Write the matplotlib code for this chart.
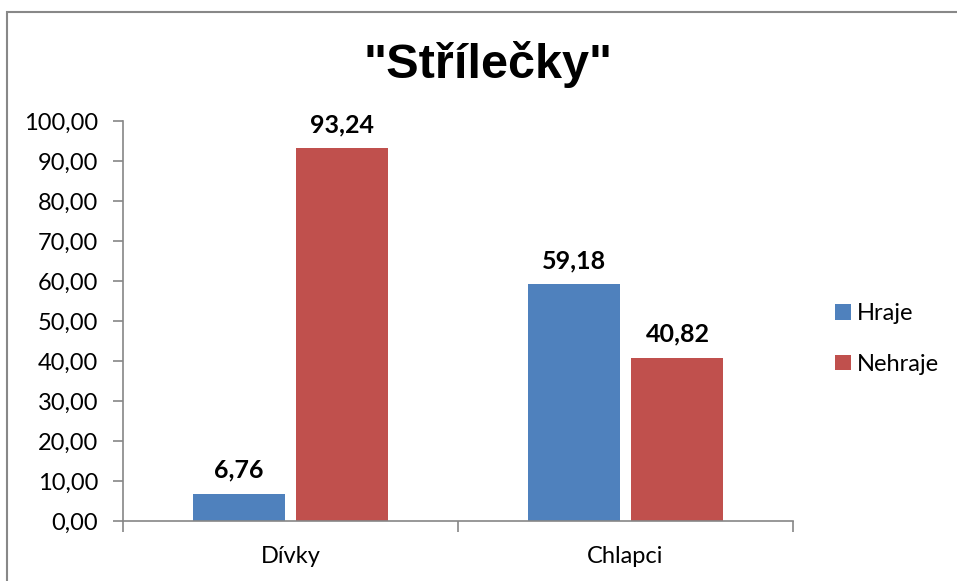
import matplotlib.pyplot as plt
from matplotlib.patches import Rectangle

categories = ["Dívky", "Chlapci"]
hraje = [6.76, 59.18]
nehraje = [93.24, 40.82]
series_names = ["Hraje", "Nehraje"]
yticks = [0, 10, 20, 30, 40, 50, 60, 70, 80, 90, 100]

blue = "#4F81BD"
red = "#C0504D"
axis_gray = "#868686"
lab_font = "Lato"

fig = plt.figure(figsize=(9.57, 5.81), dpi=100)
W, H = 957, 581

# chart border (only left and top visible in the crop)
fig.patches.append(Rectangle((7.5 / W, -0.1), 1.2, 1.1 - 12.5 / H,
                             transform=fig.transFigure, fill=False,
                             edgecolor="#888888", linewidth=1.5))

ax = fig.add_axes([123 / W, 60 / H, 670 / W, 400 / H])

x = list(range(len(categories)))
w = 0.275
off = 0.155
b1 = ax.bar([i - off for i in x], hraje, width=w, color=blue, label=series_names[0])
b2 = ax.bar([i + off for i in x], nehraje, width=w, color=red, label=series_names[1])

for bars in (b1, b2):
    for rect in bars:
        v = rect.get_height()
        ax.annotate(f"{v:.2f}".replace(".", ","),
                    (rect.get_x() + rect.get_width() / 2, v),
                    xytext=(0, 17), textcoords="offset points",
                    ha="center", va="center", fontsize=18, fontweight="bold",
                    family=lab_font)

ax.set_xlim(-0.5, 1.5)
ax.set_ylim(0, 100)
ax.set_yticks(yticks)
ax.set_yticklabels([f"{t:.2f}".replace(".", ",") for t in yticks],
                   fontsize=17, family=lab_font)
ax.set_xticks([-0.5, 0.5, 1.5], minor=False)
ax.set_xticklabels([])
ax.set_xticks(x, minor=True)
ax.set_xticklabels(categories, minor=True, fontsize=17, family=lab_font)
ax.tick_params(axis="x", which="minor", length=0, pad=18)
ax.tick_params(axis="x", which="major", length=8, color=axis_gray, width=1.2)
ax.tick_params(axis="y", length=7, color=axis_gray, width=1.2, pad=11)

for s in ("top", "right"):
    ax.spines[s].set_visible(False)
for s in ("left", "bottom"):
    ax.spines[s].set_color(axis_gray)
    ax.spines[s].set_linewidth(1.2)

fig.text(488 / W, 1 - 65 / H, '"Střílečky"', ha="center", va="center",
         fontsize=35, fontweight="bold", family="Liberation Sans")

fig.legend(handles=[b1, b2], loc="center left",
           bbox_to_anchor=(814 / W, 1 - 339 / H), frameon=False,
           prop={"family": lab_font, "size": 17}, handlelength=0.65,
           handleheight=0.65, handletextpad=0.25, labelspacing=1.25)

fig.savefig("out.png", dpi=100)
